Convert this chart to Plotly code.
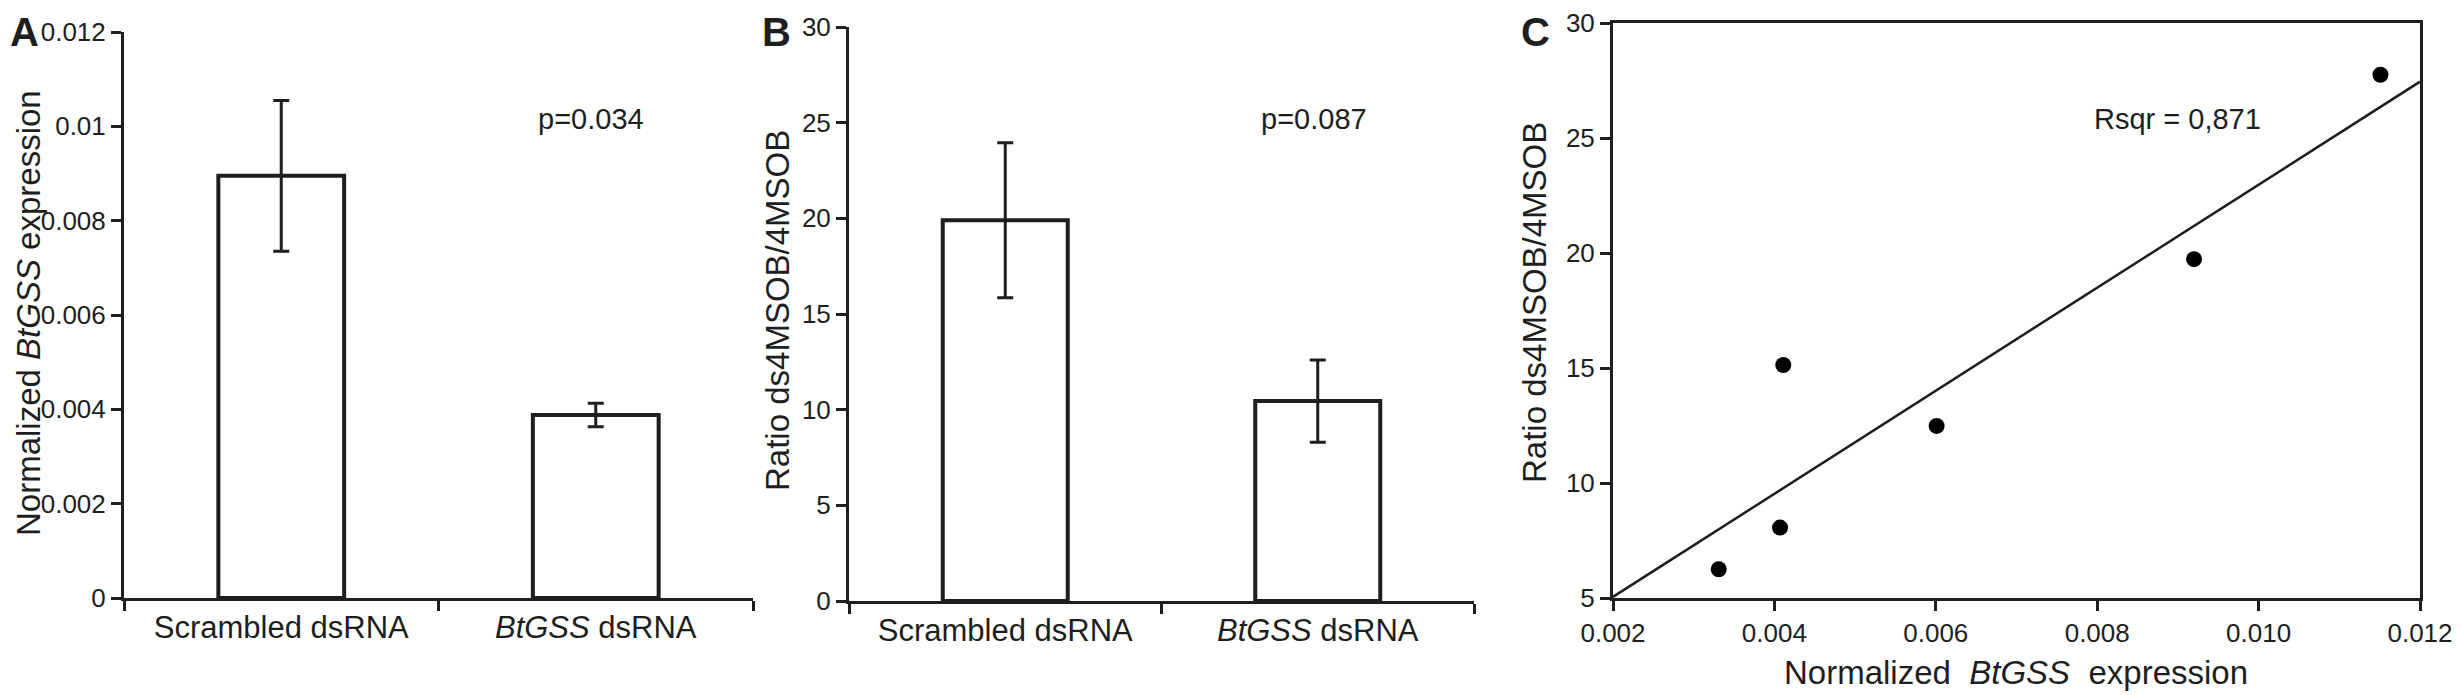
import plotly.graph_objects as go

W, H = 2462, 695
# the page body keeps its default 8px margin, so the figure is a bit smaller
# and every reference pixel position is shifted by that offset
OFF = 8
FW, FH = W - OFF, H - OFF
FONT = "Liberation Sans, Arial, sans-serif"
INK = "#1e1e1e"

# panel A / B bar data
categories = ["Scrambled dsRNA", "<i>BtGSS</i> dsRNA"]
expr_mean = [0.00895, 0.00388]
expr_err = [0.0016, 0.00025]
ratio_mean = [19.9, 10.45]
ratio_err = [4.05, 2.15]

# panel C scatter + fitted line
scat_x = [0.00331, 0.00407, 0.00411, 0.00601, 0.00920, 0.01151]
scat_y = [6.25, 8.06, 15.13, 12.48, 19.73, 27.75]
fit_x = [0.002, 0.012]
fit_y = [5.05, 27.45]

expr_ticks = [0, 0.002, 0.004, 0.006, 0.008, 0.01, 0.012]
expr_ticktext = ["0", "0.002", "0.004", "0.006", "0.008", "0.01", "0.012"]
ratio_ticks = [0, 5, 10, 15, 20, 25, 30]
c_xticks = [0.002, 0.004, 0.006, 0.008, 0.010, 0.012]
c_yticks = [5, 10, 15, 20, 25, 30]


def px(v):
    return (v - OFF) / FW


def py(v):
    return 1 - (v - OFF) / FH


fig = go.Figure()

bar_style = dict(marker=dict(color="white", line=dict(color=INK, width=4)),
                 width=0.4, showlegend=False)
err_style = dict(type="data", color=INK, thickness=3, width=8)

fig.add_trace(go.Bar(x=categories, y=expr_mean,
                     error_y=dict(array=expr_err, **err_style),
                     xaxis="x", yaxis="y", **bar_style))
fig.add_trace(go.Bar(x=categories, y=ratio_mean,
                     error_y=dict(array=ratio_err, **err_style),
                     xaxis="x2", yaxis="y2", **bar_style))
fig.add_trace(go.Scatter(x=fit_x, y=fit_y, mode="lines",
                         line=dict(color=INK, width=2.5),
                         xaxis="x3", yaxis="y3", showlegend=False))
fig.add_trace(go.Scatter(x=scat_x, y=scat_y, mode="markers",
                         marker=dict(color="black", size=16),
                         xaxis="x3", yaxis="y3", showlegend=False))

axis_common = dict(showline=True, linecolor=INK, linewidth=3, showgrid=False,
                   zeroline=False, ticks="outside", tickcolor=INK, tickwidth=3,
                   ticklen=10, automargin=False, ticklabeloverflow="allow",
                   tickfont=dict(family=FONT, size=26, color=INK))

cat_axis = dict(axis_common, type="category", range=[-0.5, 1.5],
                tickson="boundaries",
                tickfont=dict(family=FONT, size=31, color=INK))

c_font = dict(family=FONT, size=26, color=INK)

fig.update_layout(
    width=FW, height=FH,
    margin=dict(l=0, r=0, t=0, b=0, pad=0),
    paper_bgcolor="white", plot_bgcolor="white",
    font=dict(family=FONT, color=INK),
    xaxis=dict(cat_axis, domain=[px(124), px(753)], anchor="y"),
    yaxis=dict(axis_common, domain=[py(598), py(32)], range=[0, 0.012],
               tickvals=expr_ticks, ticktext=expr_ticktext, anchor="x"),
    xaxis2=dict(cat_axis, domain=[px(849), px(1474)], anchor="y2"),
    yaxis2=dict(axis_common, domain=[py(601), py(27)], range=[0, 30],
                tickvals=ratio_ticks, anchor="x2"),
    xaxis3=dict(axis_common, domain=[px(1613), px(2420)], range=[0.002, 0.012],
                tickvals=c_xticks, tickformat=".3f", mirror=True, anchor="y3",
                tickfont=c_font),
    yaxis3=dict(axis_common, domain=[py(598), py(23)], range=[5, 30],
                tickvals=c_yticks, mirror=True, anchor="x3", tickfont=c_font),
)

notes = [
    # panel letters
    dict(x=px(8), y=py(32), text="<b>A</b>", size=40, angle=0, anchor="left"),
    dict(x=px(777), y=py(32), text="<b>B</b>", size=40, angle=0, anchor="center"),
    dict(x=px(1535), y=py(32), text="<b>C</b>", size=40, angle=0, anchor="center"),
    # axis titles
    dict(x=px(28), y=py(313), text="Normalized <i>BtGSS</i> expression", size=33,
         angle=-90, anchor="center"),
    dict(x=px(777), y=py(310), text="Ratio ds4MSOB/4MSOB", size=33, angle=-90,
         anchor="center"),
    dict(x=px(1535), y=py(303), text="Ratio ds4MSOB/4MSOB", size=33, angle=-90,
         anchor="center"),
    dict(x=px(2016), y=py(672), text="Normalized  <i>BtGSS</i>  expression", size=33,
         angle=0, anchor="center"),
    # statistics
    dict(x=px(591), y=py(119), text="p=0.034", size=29, angle=0, anchor="center"),
    dict(x=px(1314), y=py(119), text="p=0.087", size=29, angle=0, anchor="center"),
    dict(x=px(2177), y=py(119), text="Rsqr = 0,871", size=29, angle=0, anchor="center"),
]
for n in notes:
    fig.add_annotation(x=n["x"], y=n["y"], xref="paper", yref="paper",
                       text=n["text"], showarrow=False, textangle=n["angle"],
                       xanchor=n["anchor"], yanchor="middle",
                       font=dict(family=FONT, size=n["size"], color=INK))

fig.write_html("out.html")
